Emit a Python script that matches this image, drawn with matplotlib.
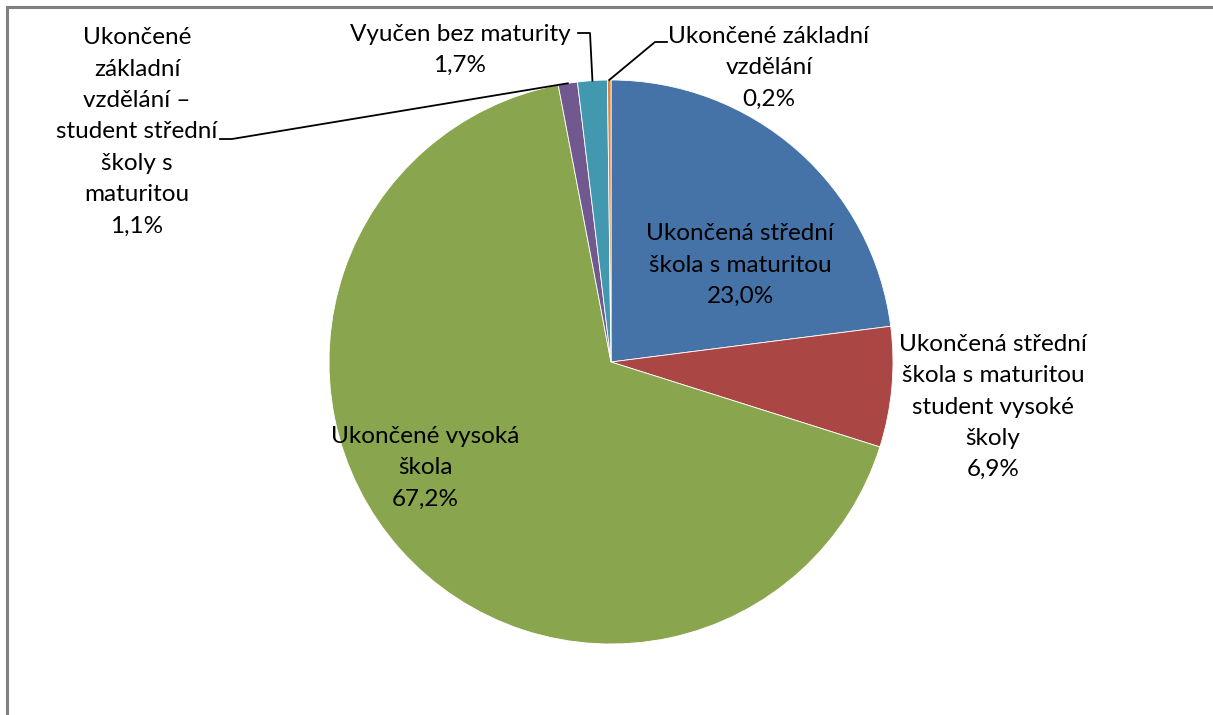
import numpy as np
import matplotlib
matplotlib.use("Agg")
import matplotlib.pyplot as plt
from matplotlib.lines import Line2D

# ---- data ----
categories = [
    "Ukončená střední\nškola s maturitou",
    "Ukončená střední\nškola s maturitou\nstudent vysoké\nškoly",
    "Ukončené vysoká\nškola",
    "Ukončené\nzákladní\nvzdělání –\nstudent střední\nškoly s\nmaturitou",
    "Vyučen bez maturity",
    "Ukončené základní\nvzdělání",
]
values = [23.0, 6.9, 67.2, 1.1, 1.7, 0.2]
value_labels = ["23,0%", "6,9%", "67,2%", "1,1%", "1,7%", "0,2%"]
colors = ["#4572A7", "#AA4643", "#89A54E", "#71588F", "#4198AF", "#DB843D"]

W, H = 1213, 715
fig = plt.figure(figsize=(W / 100, H / 100), dpi=100)
ax = fig.add_axes([0, 0, 1, 1])

cx, cy, R = 611, H - 362, 282
wedges, _ = ax.pie(values, colors=colors, startangle=90, counterclock=False,
                   center=(cx, cy), radius=R,
                   wedgeprops=dict(linewidth=0.6, edgecolor="white"))
ax.set_xlim(0, W)
ax.set_ylim(0, H)
ax.set_aspect("equal")
ax.axis("off")

# chart frame (cropped at right/bottom)
ax.add_line(Line2D([7, 7], [0, H - 7], color="#808080", lw=2.2))
ax.add_line(Line2D([7, W], [H - 7, H - 7], color="#808080", lw=2.2))

FONT = dict(family=["Lato", "DejaVu Sans"], fontsize=17.5, color="black",
            ha="center", va="center", linespacing=1.61)

# label text positions (pixel coords, y from top)
label_pos = [(740, 265), (993, 407), (425, 468), (137, 132), (460, 50), (769, 68)]

for i, (lab, vl) in enumerate(zip(categories, value_labels)):
    x, y = label_pos[i]
    ax.text(x, H - y, lab + "\n" + vl, **FONT)

# leader lines for small slices: edge point at wedge mid-angle
def edge_point(w):
    ang = np.deg2rad((w.theta1 + w.theta2) / 2)
    return cx + R * np.cos(ang), cy + R * np.sin(ang)

elbows = {3: [(220, 139), (232, 139)], 4: [(578, 33), (590, 33)], 5: [(667, 42), (655, 42)]}
for i, pts in elbows.items():
    ex, ey = edge_point(wedges[i])
    xs = [p[0] for p in pts] + [ex]
    ys = [H - p[1] for p in pts] + [ey]
    ax.add_line(Line2D(xs, ys, color="black", lw=1.3))

fig.savefig("out.png", dpi=100, facecolor="white")
